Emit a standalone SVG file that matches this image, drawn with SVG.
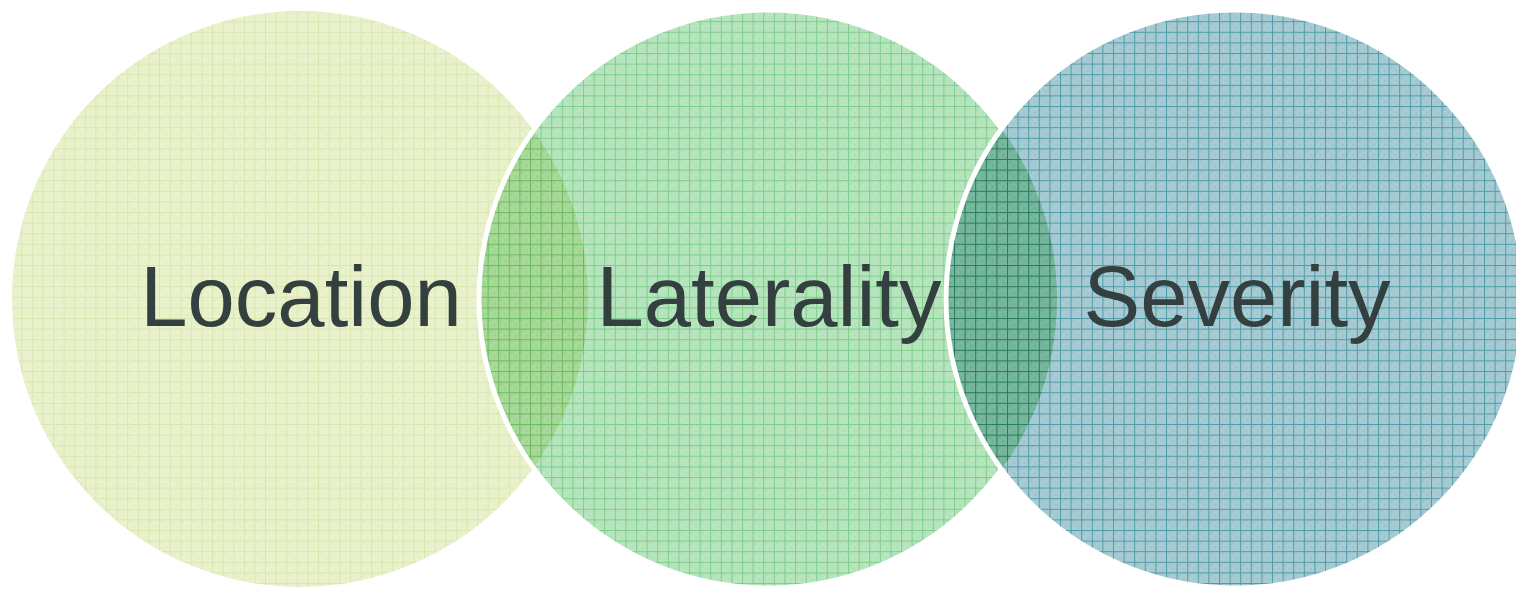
<svg xmlns="http://www.w3.org/2000/svg" width="1516" height="589" viewBox="0 0 1516 589">
  <style>
    .lbl { font-family: "Liberation Sans", Arial, sans-serif; font-size: 85px; fill: #343f3f; text-anchor: middle; }
    .fill { mix-blend-mode: multiply; fill-opacity: 0.8; }
    .edge { fill: none; stroke: #ffffff; stroke-width: 5; }
  </style>
  <defs>
    <pattern id="pLoc" width="10.6" height="10.6" patternUnits="userSpaceOnUse">
      <rect width="10.6" height="10.6" fill="#eaf2cd"/>
      <rect x="2" y="2" width="2" height="2" fill="#e3edc2"/>
      <rect x="6" y="6" width="2" height="2" fill="#e3edc2"/>
      <rect x="0" y="0" width="1" height="10.6" fill="#d8e7ad"/>
      <rect x="0" y="0" width="10.6" height="1" fill="#d8e7ad"/>
    </pattern>
    <pattern id="pLat" width="10.6" height="10.6" patternUnits="userSpaceOnUse">
      <rect width="10.6" height="10.6" fill="#a4deae"/>
      <rect x="2" y="2" width="2" height="2" fill="#97daa1"/>
      <rect x="6" y="6" width="2" height="2" fill="#97daa1"/>
      <rect x="0" y="0" width="1" height="10.6" fill="#60c06f"/>
      <rect x="0" y="0" width="10.6" height="1" fill="#60c06f"/>
    </pattern>
    <pattern id="pSev" width="10.6" height="10.6" patternUnits="userSpaceOnUse">
      <rect width="10.6" height="10.6" fill="#90bec8"/>
      <rect x="2" y="2" width="2" height="2" fill="#81b4bf"/>
      <rect x="6" y="6" width="2" height="2" fill="#81b4bf"/>
      <rect x="0" y="0" width="1" height="10.6" fill="#248295"/>
      <rect x="0" y="0" width="10.6" height="1" fill="#248295"/>
    </pattern>
    <mask id="notSev">
      <rect width="1516" height="589" fill="#fff"/>
      <circle cx="1235" cy="299" r="289" fill="#000"/>
    </mask>
  </defs>
  <g id="location">
    <circle cx="300" cy="299" r="288" fill="url(#pLoc)"/>
  </g>
  <g id="laterality">
    <circle class="fill" cx="768" cy="299" r="289" fill="url(#pLat)"/>
    <circle class="edge" cx="768" cy="299" r="289" mask="url(#notSev)"/>
  </g>
  <g id="severity">
    <circle class="fill" cx="1235" cy="299" r="289" fill="url(#pSev)"/>
    <circle class="edge" cx="1235" cy="299" r="289"/>
  </g>
  <g id="connectors"/>
  <g id="labels">
    <text class="lbl" x="301" y="326">Location</text>
    <text class="lbl" x="769" y="326">Laterality</text>
    <text class="lbl" x="1237" y="326">Severity</text>
  </g>
</svg>
